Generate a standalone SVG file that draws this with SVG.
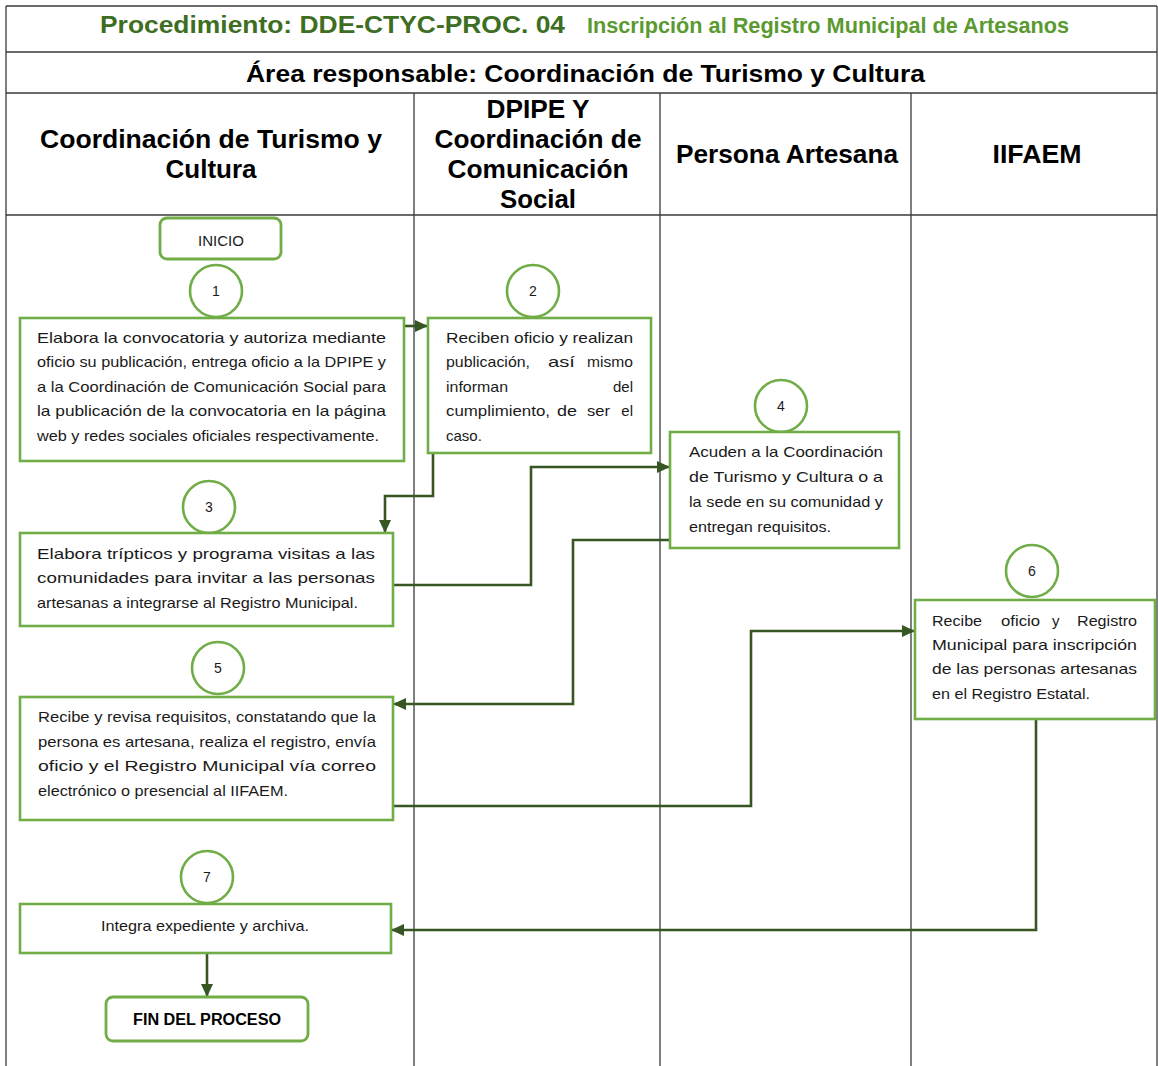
<svg xmlns="http://www.w3.org/2000/svg" width="1158" height="1066" viewBox="0 0 1158 1066">
<style>
.grid{stroke:#3a3a3a;stroke-width:1.3;fill:none}
.box{fill:#fff;stroke:#70ad47;stroke-width:2.6}
.term{fill:#fff;stroke:#70ad47;stroke-width:2.8}
.num{fill:#fff;stroke:#70ad47;stroke-width:2.6}
.t{font-family:"Liberation Sans",Arial,sans-serif;font-size:15px;fill:#1a1a1a}
.n{font-family:"Liberation Sans",Arial,sans-serif;font-size:14px;fill:#1a1a1a;text-anchor:middle}
.h{font-family:"Liberation Sans",Arial,sans-serif;font-size:26px;font-weight:bold;fill:#000;text-anchor:middle}
.c{stroke:#375623;stroke-width:2.6;fill:none;marker-end:url(#ah)}
</style>
<defs>
<marker id="ah" markerUnits="userSpaceOnUse" markerWidth="14" markerHeight="14" refX="13" refY="7" orient="auto">
<path d="M0,1 L13,7 L0,13 z" fill="#375623"/>
</marker>
</defs>
<rect width="1158" height="1066" fill="#fff"/>
<g id="table">
<line class="grid" x1="6" y1="6" x2="1157" y2="6" stroke-width="2"/>
<line class="grid" x1="6" y1="52" x2="1157" y2="52"/>
<line class="grid" x1="6" y1="93" x2="1157" y2="93"/>
<line class="grid" x1="6" y1="215" x2="1157" y2="215"/>
<line class="grid" x1="6" y1="6" x2="6" y2="1066"/>
<line class="grid" x1="1157" y1="6" x2="1157" y2="1066"/>
<line class="grid" x1="414" y1="93" x2="414" y2="1066"/>
<line class="grid" x1="660" y1="93" x2="660" y2="1066"/>
<line class="grid" x1="911" y1="93" x2="911" y2="1066"/>
<text x="100" y="33" font-family="Liberation Sans, Arial, sans-serif" font-size="24" font-weight="bold" fill="#3d6e22" textLength="465" lengthAdjust="spacingAndGlyphs">Procedimiento: DDE-CTYC-PROC. 04</text>
<text x="587" y="33" font-family="Liberation Sans, Arial, sans-serif" font-size="22" font-weight="bold" fill="#5a9a30" textLength="482" lengthAdjust="spacingAndGlyphs">Inscripción al Registro Municipal de Artesanos</text>
<text x="246" y="82" font-family="Liberation Sans, Arial, sans-serif" font-size="24" font-weight="bold" fill="#000" textLength="679" lengthAdjust="spacingAndGlyphs">Área responsable: Coordinación de Turismo y Cultura</text>
<text class="h" x="211" y="148" textLength="342" lengthAdjust="spacingAndGlyphs">Coordinación de Turismo y</text>
<text class="h" x="211" y="178" textLength="91" lengthAdjust="spacingAndGlyphs">Cultura</text>
<text class="h" x="538" y="118" textLength="103" lengthAdjust="spacingAndGlyphs">DPIPE Y</text>
<text class="h" x="538" y="148" textLength="207" lengthAdjust="spacingAndGlyphs">Coordinación de</text>
<text class="h" x="538" y="178" textLength="181" lengthAdjust="spacingAndGlyphs">Comunicación</text>
<text class="h" x="538" y="208" textLength="76" lengthAdjust="spacingAndGlyphs">Social</text>
<text class="h" x="787" y="163" textLength="222" lengthAdjust="spacingAndGlyphs">Persona Artesana</text>
<text class="h" x="1037" y="163" textLength="89" lengthAdjust="spacingAndGlyphs">IIFAEM</text>
</g>
<g id="connectors">
<path class="c" d="M404,326 H428"/>
<path class="c" d="M433,453 V496 H385 V533"/>
<path class="c" d="M393,585 H531 V467 H670"/>
<path class="c" d="M670,540 H573 V704 H393"/>
<path class="c" d="M393,806 H751 V631 H915"/>
<path class="c" d="M1036,719 V930 H391"/>
<path class="c" d="M207,953 V997"/>
</g>
<g id="inicio">
<rect class="term" x="160" y="218" width="121" height="41" rx="7"/>
<text x="221" y="246" font-family="Liberation Sans, Arial, sans-serif" font-size="15" fill="#1a1a1a" text-anchor="middle">INICIO</text>
</g>
<g id="step1">
<circle class="num" cx="216" cy="291" r="26"/>
<text class="n" x="216" y="296">1</text>
<rect class="box" x="20" y="318" width="384" height="143"/>
<text class="t" x="37" y="343" textLength="349" lengthAdjust="spacingAndGlyphs">Elabora la convocatoria y autoriza mediante</text>
<text class="t" x="37" y="367" textLength="349" lengthAdjust="spacingAndGlyphs">oficio su publicación, entrega oficio a la DPIPE y</text>
<text class="t" x="37" y="392" textLength="349" lengthAdjust="spacingAndGlyphs">a la Coordinación de Comunicación Social para</text>
<text class="t" x="37" y="416" textLength="349" lengthAdjust="spacingAndGlyphs">la publicación de la convocatoria en la página</text>
<text class="t" x="37" y="441" textLength="342" lengthAdjust="spacingAndGlyphs">web y redes sociales oficiales respectivamente.</text>
</g>
<g id="step2">
<circle class="num" cx="533" cy="291" r="26"/>
<text class="n" x="533" y="296">2</text>
<rect class="box" x="428" y="318" width="223" height="135"/>
<text class="t" x="446" y="343" textLength="187" lengthAdjust="spacingAndGlyphs">Reciben oficio y realizan</text>
<text class="t" x="446" y="367" textLength="84" lengthAdjust="spacingAndGlyphs">publicación,</text>
<text class="t" x="548" y="367" textLength="27" lengthAdjust="spacingAndGlyphs">así</text>
<text class="t" x="587" y="367" textLength="46" lengthAdjust="spacingAndGlyphs">mismo</text>
<text class="t" x="446" y="392" textLength="62" lengthAdjust="spacingAndGlyphs">informan</text>
<text class="t" x="633" y="392" text-anchor="end">del</text>
<text class="t" x="446" y="416" textLength="104" lengthAdjust="spacingAndGlyphs">cumplimiento,</text>
<text class="t" x="557" y="416" textLength="20" lengthAdjust="spacingAndGlyphs">de</text>
<text class="t" x="587" y="416" textLength="23" lengthAdjust="spacingAndGlyphs">ser</text>
<text class="t" x="633" y="416" text-anchor="end">el</text>
<text class="t" x="446" y="441">caso.</text>
</g>
<g id="step3">
<circle class="num" cx="209" cy="507" r="26"/>
<text class="n" x="209" y="512">3</text>
<rect class="box" x="20" y="533" width="373" height="93"/>
<text class="t" x="37" y="559" textLength="338" lengthAdjust="spacingAndGlyphs">Elabora trípticos y programa visitas a las</text>
<text class="t" x="37" y="583" textLength="338" lengthAdjust="spacingAndGlyphs">comunidades para invitar a las personas</text>
<text class="t" x="37" y="608" textLength="321" lengthAdjust="spacingAndGlyphs">artesanas a integrarse al Registro Municipal.</text>
</g>
<g id="step4">
<circle class="num" cx="781" cy="406" r="26"/>
<text class="n" x="781" y="411">4</text>
<rect class="box" x="670" y="432" width="229" height="116"/>
<text class="t" x="689" y="457" textLength="194" lengthAdjust="spacingAndGlyphs">Acuden a la Coordinación</text>
<text class="t" x="689" y="482" textLength="194" lengthAdjust="spacingAndGlyphs">de Turismo y Cultura o a</text>
<text class="t" x="689" y="507" textLength="194" lengthAdjust="spacingAndGlyphs">la sede en su comunidad y</text>
<text class="t" x="689" y="532" textLength="142" lengthAdjust="spacingAndGlyphs">entregan requisitos.</text>
</g>
<g id="step5">
<circle class="num" cx="218" cy="668" r="26"/>
<text class="n" x="218" y="673">5</text>
<rect class="box" x="20" y="697" width="373" height="123"/>
<text class="t" x="38" y="722" textLength="338" lengthAdjust="spacingAndGlyphs">Recibe y revisa requisitos, constatando que la</text>
<text class="t" x="38" y="747" textLength="338" lengthAdjust="spacingAndGlyphs">persona es artesana, realiza el registro, envía</text>
<text class="t" x="38" y="771" textLength="338" lengthAdjust="spacingAndGlyphs">oficio y el Registro Municipal vía correo</text>
<text class="t" x="38" y="796" textLength="250" lengthAdjust="spacingAndGlyphs">electrónico o presencial al IIFAEM.</text>
</g>
<g id="step6">
<circle class="num" cx="1032" cy="571" r="26"/>
<text class="n" x="1032" y="576">6</text>
<rect class="box" x="915" y="600" width="240" height="119"/>
<text class="t" x="932" y="626" textLength="50" lengthAdjust="spacingAndGlyphs">Recibe</text>
<text class="t" x="1001" y="626" textLength="39" lengthAdjust="spacingAndGlyphs">oficio</text>
<text class="t" x="1052" y="626">y</text>
<text class="t" x="1077" y="626" textLength="60" lengthAdjust="spacingAndGlyphs">Registro</text>
<text class="t" x="932" y="650" textLength="205" lengthAdjust="spacingAndGlyphs">Municipal para inscripción</text>
<text class="t" x="932" y="674" textLength="205" lengthAdjust="spacingAndGlyphs">de las personas artesanas</text>
<text class="t" x="932" y="699" textLength="158" lengthAdjust="spacingAndGlyphs">en el Registro Estatal.</text>
</g>
<g id="step7">
<circle class="num" cx="207" cy="877" r="26"/>
<text class="n" x="207" y="882">7</text>
<rect class="box" x="20" y="904" width="371" height="49"/>
<text class="t" x="205" y="931" text-anchor="middle" textLength="208" lengthAdjust="spacingAndGlyphs">Integra expediente y archiva.</text>
</g>
<g id="fin">
<rect class="term" x="106" y="997" width="202" height="44" rx="7"/>
<text x="207" y="1025" font-family="Liberation Sans, Arial, sans-serif" font-size="16" font-weight="bold" fill="#000" text-anchor="middle" textLength="148" lengthAdjust="spacingAndGlyphs">FIN DEL PROCESO</text>
</g>
</svg>
